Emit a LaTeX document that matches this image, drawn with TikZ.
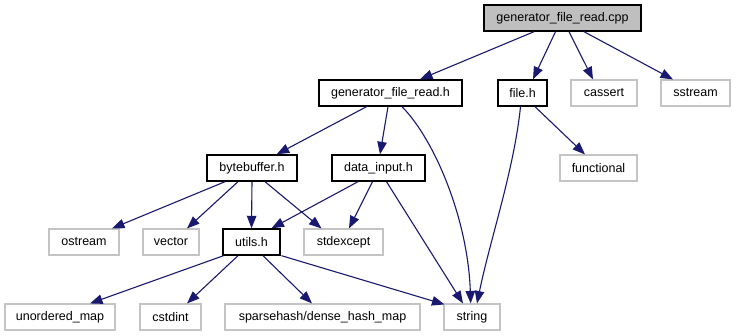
\documentclass[tikz,border=0pt]{standalone}
\usepackage{fontspec}
\setmainfont{Liberation Sans}
\usetikzlibrary{arrows.meta}
\definecolor{edgeblue}{HTML}{191970}
\definecolor{boxgray}{HTML}{BFBFBF}
\definecolor{extgray}{HTML}{C4C4C4}
\tikzset{
  hdr/.style={draw=black, line width=1.4pt, minimum height=26pt, inner sep=0pt,
    font=\fontsize{12.5}{14}\selectfont, text=black},
  sysh/.style={draw=extgray, line width=1.1pt, minimum height=26pt, inner sep=0pt,
    font=\fontsize{12.5}{14}\selectfont, text=black},
  mainfile/.style={hdr, fill=boxgray},
  dep/.style={draw=edgeblue, line width=1.1pt,
    -{Triangle[length=12.5pt,width=9.5pt]}}
}
\begin{document}
\begin{tikzpicture}[x=1pt,y=-1pt]
\useasboundingbox (0,0) rectangle (736,336);

% row 0
\node[mainfile, minimum width=157pt] (cpp) at (562.5,18) {generator\_file\_read.cpp};
% row 1
\node[hdr, minimum width=143pt] (gfrh) at (390.5,93) {generator\_file\_read.h};
\node[hdr, minimum width=49pt] (fileh) at (522.5,93) {file.h};
\node[sysh, minimum width=66pt] (cassert) at (604,93) {cassert};
\node[sysh, minimum width=69pt] (sstream) at (695.5,93) {sstream};
% row 2
\node[hdr, minimum width=90pt] (bytebuf) at (252,168) {bytebuffer.h};
\node[hdr, minimum width=93pt] (datain) at (378.5,168) {data\_input.h};
\node[sysh, minimum width=77pt] (functional) at (598.5,168) {functional};
% row 3
\node[sysh, minimum width=70pt] (ostream) at (84,242) {ostream};
\node[sysh, minimum width=56pt] (vector) at (171,242) {vector};
\node[hdr, minimum width=57pt] (utils) at (251.5,242) {utils.h};
\node[sysh, minimum width=79pt] (stdexcept) at (343.5,242) {stdexcept};
% row 4
\node[sysh, minimum width=110pt] (umap) at (60,317) {unordered\_map};
\node[sysh, minimum width=61pt] (cstdint) at (170.5,317) {cstdint};
\node[sysh, minimum width=195pt] (dhm) at (322.5,317) {sparsehash/dense\_hash\_map};
\node[sysh, minimum width=56pt] (string) at (472,317) {string};

% includes of generator_file_read.cpp
\draw[dep] ([xshift=-28.5pt]cpp.south) -- ([xshift=29.5pt]gfrh.north);
\draw[dep] ([xshift=-7pt]cpp.south) -- ([xshift=10.5pt]fileh.north);
\draw[dep] ([xshift=6.5pt]cpp.south) -- ([xshift=-11pt]cassert.north);
\draw[dep] ([xshift=21.5pt]cpp.south) -- ([xshift=-22.5pt]sstream.north);

% includes of generator_file_read.h
\draw[dep] ([xshift=-24pt]gfrh.south) -- ([xshift=24.7pt]bytebuf.north);
\draw[dep] ([xshift=-2.5pt]gfrh.south) -- ([xshift=1.5pt]datain.north);
\draw[dep] ([xshift=11.5pt]gfrh.south) .. controls (435,140) and (468,220) .. ([xshift=-1.3pt]string.north);

% includes of file.h
\draw[dep] ([xshift=-2pt]fileh.south) .. controls (514,170) and (490,240) .. ([xshift=5pt]string.north);
\draw[dep] ([xshift=12.5pt]fileh.south) -- ([xshift=-13.5pt]functional.north);

% includes of bytebuffer.h
\draw[dep] ([xshift=-27pt]bytebuf.south) -- ([xshift=28pt]ostream.north);
\draw[dep] ([xshift=-14pt]bytebuf.south) -- ([xshift=16pt]vector.north);
\draw[dep] (bytebuf.south) -- (utils.north);
\draw[dep] ([xshift=13pt]bytebuf.south) -- ([xshift=-22pt]stdexcept.north);

% includes of data_input.h
\draw[dep] ([xshift=-20.5pt]datain.south) -- ([xshift=20pt]utils.north);
\draw[dep] ([xshift=-6pt]datain.south) -- ([xshift=5.5pt]stdexcept.north);
\draw[dep] ([xshift=8pt]datain.south) -- ([xshift=-9pt]string.north);

% includes of utils.h
\draw[dep] ([xshift=-28pt]utils.south) -- ([xshift=30pt]umap.north);
\draw[dep] ([xshift=-13.5pt]utils.south) -- ([xshift=16.5pt]cstdint.north);
\draw[dep] ([xshift=11.5pt]utils.south) -- ([xshift=-10.5pt]dhm.north);
\draw[dep] ([xshift=30pt]utils.south) -- ([xshift=1pt,yshift=-1pt]string.north west);
\end{tikzpicture}
\end{document}
